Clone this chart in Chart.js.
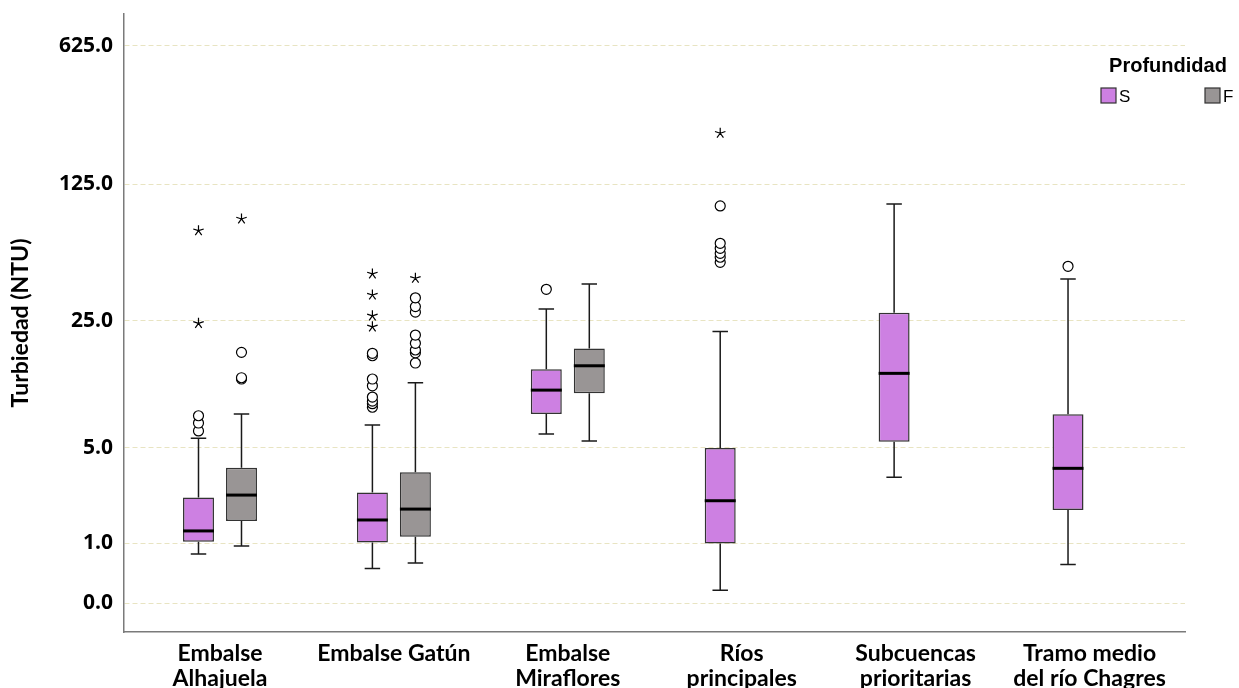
<!DOCTYPE html>
<html>
<head>
<meta charset="utf-8">
<style>
  html, body { margin: 0; padding: 0; background: #fff; }
</style>
<script src="https://cdn.jsdelivr.net/npm/chart.js@4.4.1/dist/chart.umd.min.js"></script>
</head>
<body>
<canvas id="boxChart" width="1239" height="688"></canvas>
<script>
// Kategorien (x-Achse) und Tick-Werte der y-Achse (NTU)
const categories = [
  ['Embalse', 'Alhajuela'],
  ['Embalse Gatún'],
  ['Embalse', 'Miraflores'],
  ['Ríos', 'principales'],
  ['Subcuencas', 'prioritarias'],
  ['Tramo medio', 'del río Chagres']
];
const yTicks = [0, 1, 5, 25, 125, 625];

// Profundidad S
const sLow  = [0.76, 0.49, 6.05, 0.16, 3.27, 0.56];
const sQ1   = [1.03, 1.01, 7.88, 0.99, 5.45, 1.93];
const sMed  = [1.30, 1.61, 10.7, 2.26, 13.2, 3.74];
const sQ3   = [2.38, 2.59, 13.9, 5.00, 27.6, 7.85];
const sHigh = [5.71, 6.82, 28.9, 22.0, 99.5, 41.2];
const sOut  = [[6.3, 7.0, 7.7], [8.6, 9.0, 9.3, 9.8, 11.3, 12.3, 16.4, 16.9], [36.5], [50.2, 53.3, 55.8, 59.2, 62.8, 97.2], [], [47.9]];
const sExt  = [[24.3, 72.8], [23.3, 26.6, 34.1, 43.8], [], [226.5], [], []];

// Profundidad F
const fLow  = [0.93, 0.59, 5.5, null, null, null];
const fQ1   = [1.58, 1.15, 10.3, null, null, null];
const fMed  = [2.48, 1.96, 14.5, null, null, null];
const fQ3   = [3.77, 3.53, 17.9, null, null, null];
const fHigh = [7.88, 11.75, 38.9, null, null, null];
const fOut  = [[12.3, 12.5, 17.1], [15.0, 17.0, 17.6, 19.1, 21.1, 27.8, 29.7, 33.0], [], [], [], []];
const fExt  = [[83.5], [41.6], [], [], [], []];

const colS = '#cd80e2';
const colF = '#999595';

// y-Achse: log5(1 + x)
const tf = v => Math.log(1 + v) / Math.log(5);
const inv = t => Math.pow(5, t) - 1;

function boxData(q1, q3) {
  return q1.map((v, i) => v == null ? null : { x: i, y: [tf(v), tf(q3[i])] }).filter(Boolean);
}

const series = [
  { low: sLow, med: sMed, high: sHigh, out: sOut, ext: sExt, q1: sQ1, q3: sQ3 },
  { low: fLow, med: fMed, high: fHigh, out: fOut, ext: fExt, q1: fQ1, q3: fQ3 }
];

function eachBox(chart, fn) {
  const y = chart.scales.y;
  series.forEach((s, d) => {
    const meta = chart.getDatasetMeta(d);
    meta.data.forEach((bar, j) => {
      const i = chart.data.datasets[d].data[j].x;
      fn(s, i, bar, v => y.getPixelForValue(tf(v)));
    });
  });
}

const boxParts = {
  id: 'boxParts',
  beforeDatasetsDraw(chart) {
    const ctx = chart.ctx;
    ctx.save();
    ctx.strokeStyle = '#1a1a1a';
    ctx.lineWidth = 1.5;
    eachBox(chart, (s, i, bar, py) => {
      const x = bar.x, hw = bar.width / 4;
      ctx.beginPath();
      ctx.moveTo(x, py(s.low[i])); ctx.lineTo(x, py(s.q1[i]));
      ctx.moveTo(x, py(s.q3[i])); ctx.lineTo(x, py(s.high[i]));
      ctx.moveTo(x - hw, py(s.low[i])); ctx.lineTo(x + hw, py(s.low[i]));
      ctx.moveTo(x - hw, py(s.high[i])); ctx.lineTo(x + hw, py(s.high[i]));
      ctx.stroke();
    });
    ctx.restore();
  },
  afterDatasetsDraw(chart) {
    const ctx = chart.ctx;
    ctx.save();
    eachBox(chart, (s, i, bar, py) => {
      const x = bar.x, hw = bar.width / 2;
      // Median
      ctx.strokeStyle = '#000';
      ctx.lineWidth = 3;
      ctx.beginPath();
      ctx.moveTo(x - hw, py(s.med[i])); ctx.lineTo(x + hw, py(s.med[i]));
      ctx.stroke();
      // Ausreisser
      ctx.lineWidth = 1.2;
      s.out[i].forEach(v => {
        ctx.beginPath();
        ctx.arc(x, py(v), 5, 0, Math.PI * 2);
        ctx.fillStyle = '#fff';
        ctx.fill();
        ctx.stroke();
      });
      // Extremwerte
      s.ext[i].forEach(v => {
        const cy = py(v);
        ctx.beginPath();
        for (let k = 0; k < 5; k++) {
          const a = -Math.PI / 2 + k * 2 * Math.PI / 5;
          ctx.moveTo(x, cy);
          ctx.lineTo(x + 5.5 * Math.cos(a), cy + 5.5 * Math.sin(a));
        }
        ctx.stroke();
      });
    });
    ctx.restore();
  },
  afterDraw(chart) {
    // Legende
    const ctx = chart.ctx;
    ctx.save();
    ctx.fillStyle = '#000';
    ctx.font = 'bold 20px "Liberation Sans", Arial, sans-serif';
    ctx.textAlign = 'center';
    ctx.textBaseline = 'middle';
    ctx.fillText('Profundidad', 1168, 66);
    ctx.font = '17px "Liberation Sans", Arial, sans-serif';
    ctx.textAlign = 'left';
    [['S', colS, 1101], ['F', colF, 1205]].forEach(([t, c, lx]) => {
      ctx.fillStyle = c;
      ctx.fillRect(lx, 88, 15, 15);
      ctx.strokeStyle = '#333';
      ctx.lineWidth = 1.2;
      ctx.strokeRect(lx, 88, 15, 15);
      ctx.fillStyle = '#000';
      ctx.fillText(t, lx + 18, 97);
    });
    ctx.restore();
  }
};

new Chart(document.getElementById('boxChart'), {
  type: 'bar',
  data: {
    datasets: [
      { label: 'S', data: boxData(sQ1, sQ3), backgroundColor: colS },
      { label: 'F', data: boxData(fQ1, fQ3), backgroundColor: colF }
    ]
  },
  options: {
    responsive: false,
    animation: false,
    events: [],
    datasets: {
      bar: {
        borderColor: '#333',
        borderWidth: 1.5,
        borderSkipped: false,
        categoryPercentage: 0.4945,
        barPercentage: 0.72
      }
    },
    layout: { padding: { left: 0, right: 54, top: 14, bottom: 0 } },
    plugins: { legend: { display: false }, tooltip: { enabled: false } },
    scales: {
      x: {
        type: 'linear',
        offset: false,
        min: -0.552,
        max: 5.549,
        afterBuildTicks: scale => { scale.ticks = categories.map((c, i) => ({ value: i })); },
        afterFit: scale => { scale.height = 56; scale.paddingLeft = 0; scale.paddingRight = 0; },
        grid: { display: false },
        border: { color: '#7a7a7a', width: 1.5 },
        ticks: {
          autoSkip: false,
          maxRotation: 0,
          padding: 2,
          color: '#000',
          font: { family: 'Lato', weight: 'bold', size: 23, lineHeight: 1.05 },
          callback: v => categories[v]
        }
      },
      y: {
        min: -0.208,
        max: 4.228,
        afterBuildTicks: scale => { scale.ticks = yTicks.map(v => ({ value: tf(v) })); },
        afterFit: scale => { scale.width = 124; scale.paddingTop = 0; scale.paddingBottom = 0; },
        grid: { color: '#e8e4c2', lineWidth: 1, drawTicks: false },
        border: { color: '#7a7a7a', width: 1.5, dash: [5, 3] },
        ticks: {
          padding: 11,
          color: '#000',
          font: { family: '"Open Sans"', weight: 'bold', size: 21 },
          callback: v => inv(v).toFixed(1)
        },
        title: {
          display: true,
          text: 'Turbiedad (NTU)',
          color: '#000',
          padding: { top: 7, bottom: 0 },
          font: { family: 'Lato', weight: 'bold', size: 23 }
        }
      }
    }
  },
  plugins: [boxParts]
});
</script>
</body>
</html>
